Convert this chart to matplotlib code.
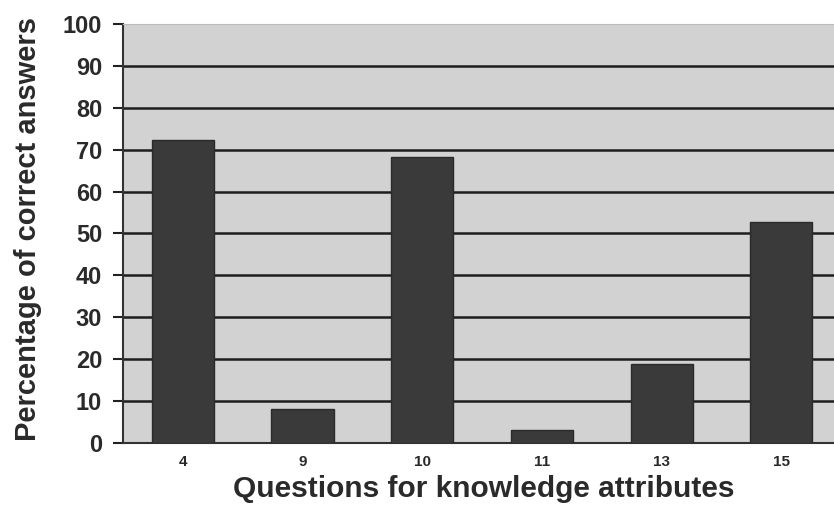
import matplotlib
matplotlib.use("Agg")
import matplotlib.pyplot as plt
import numpy as np

categories = ["4", "9", "10", "11", "13", "15"]
values = [72.3, 8.1, 68.2, 3.1, 18.9, 52.7]
yticks = [0, 10, 20, 30, 40, 50, 60, 70, 80, 90, 100]

plt.rcParams['font.family'] = ['Liberation Sans', 'DejaVu Sans']

fig = plt.figure(figsize=(8.34, 5.05), dpi=100)
ax = fig.add_axes([123/834, 1-443/505, 1-123/834, (443-24)/505])
ax.set_facecolor('#d2d2d2')

x = np.arange(len(categories))
ax.bar(x, values, width=0.52, color='#3a3a3a', edgecolor='#2a2a2a', linewidth=1, zorder=3)

ax.set_ylim(0, 100)
ax.set_xlim(-0.5, 5.44)
ax.set_yticks(yticks)
ax.set_yticklabels([str(v) for v in yticks], fontsize=17, fontweight='bold', color='#2a2a2a')
ax.set_xticks(x)
ax.set_xticklabels(categories, fontsize=11, fontweight='bold', color='#2a2a2a')
ax.tick_params(axis='x', length=0, pad=9)
ax.tick_params(axis='y', length=7, width=1.5, color='#222222', pad=8)

for v in yticks[1:-1]:
    ax.axhline(v, color='#1e1e1e', linewidth=1.8, zorder=2)

ax.spines['top'].set_color('#bbbbbb')
ax.spines['right'].set_visible(False)
ax.spines['left'].set_color('#333333')
ax.spines['left'].set_linewidth(1.5)
ax.spines['bottom'].set_color('#333333')
ax.spines['bottom'].set_linewidth(1.5)

fig.text(28/834, 1-229/505, 'Percentage of correct answers', rotation=90,
         ha='center', va='center', fontsize=21, fontweight='bold', color='#2a2a2a')
fig.text(484/834, 1-497/505, 'Questions for knowledge attributes',
         ha='center', va='baseline', fontsize=21.5, fontweight='bold', color='#2a2a2a')

fig.savefig('out.png', dpi=100)
